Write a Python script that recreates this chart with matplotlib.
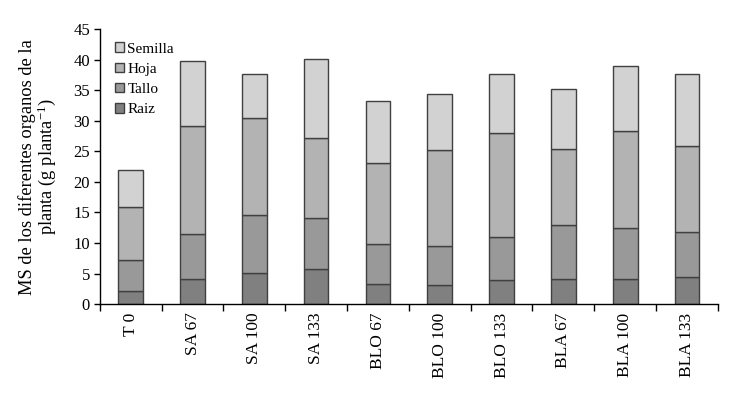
import matplotlib
matplotlib.use("Agg")
import matplotlib.pyplot as plt
import numpy as np

categories = ["T 0", "SA 67", "SA 100", "SA 133", "BLO 67", "BLO 100", "BLO 133", "BLA 67", "BLA 100", "BLA 133"]
raiz    = [2.2, 4.1, 5.1, 5.7, 3.3, 3.15, 4.0, 4.15, 4.15, 4.45]
tallo   = [5.05, 7.35, 9.5, 8.35, 6.55, 6.4, 7.0, 8.8, 8.3, 7.35]
hoja    = [8.6, 17.65, 15.8, 13.15, 13.2, 15.65, 17.0, 12.45, 15.85, 14.1]
semilla = [6.1, 10.7, 7.3, 12.9, 10.25, 9.2, 9.7, 9.8, 10.7, 11.8]

series = [("Raiz", raiz, "#808080"), ("Tallo", tallo, "#999999"),
          ("Hoja", hoja, "#b3b3b3"), ("Semilla", semilla, "#d2d2d2")]

plt.rcParams['font.family'] = ['Liberation Serif', 'DejaVu Serif']
plt.rcParams['mathtext.fontset'] = 'custom'
plt.rcParams['mathtext.rm'] = 'Liberation Serif'
plt.rcParams['mathtext.it'] = 'Liberation Serif:italic'
plt.rcParams['mathtext.bf'] = 'Liberation Serif:bold'

fig = plt.figure(figsize=(7.34, 4.11), dpi=100)
ax = fig.add_axes([0.136, 0.26, 0.842, 0.669])

x = np.arange(len(categories))
bottom = np.zeros(len(categories))
handles = []
for name, vals, col in series:
    b = ax.bar(x, vals, width=0.4, bottom=bottom, color=col, edgecolor="#404040",
               linewidth=1.0, label=name)
    handles.append(b)
    bottom += np.array(vals)

ax.set_xlim(-0.5, len(categories) - 0.5)
ax.set_ylim(0, 45)
ax.set_yticks(np.arange(0, 46, 5))
ax.set_xticks(x)
ax.set_xticklabels(categories, rotation=90, fontsize=12.5)
ax.set_xticks(np.arange(-0.5, len(categories), 1), minor=True)
ax.tick_params(axis='x', which='major', length=0, pad=6)
ax.tick_params(axis='x', which='minor', length=5, direction='out', width=1)
ax.tick_params(axis='y', labelsize=12, length=4, width=1, direction='out', pad=3)
for s in ["top", "right"]:
    ax.spines[s].set_visible(False)
for s in ["left", "bottom"]:
    ax.spines[s].set_linewidth(1.0)

ax.set_ylabel("MS de los diferentes organos de la\nplanta (g planta$^{\\mathrm{-1}}$)", fontsize=13.3,
              linespacing=0.95, labelpad=11)

leg = ax.legend(handles[::-1], [h.get_label() for h in handles[::-1]], loc="upper left",
                frameon=False, fontsize=11, handlelength=0.6, handleheight=0.6,
                handletextpad=0.2, labelspacing=0.45, borderaxespad=0.2,
                bbox_to_anchor=(0.01, 0.985))

fig.savefig("out.png", dpi=100)
